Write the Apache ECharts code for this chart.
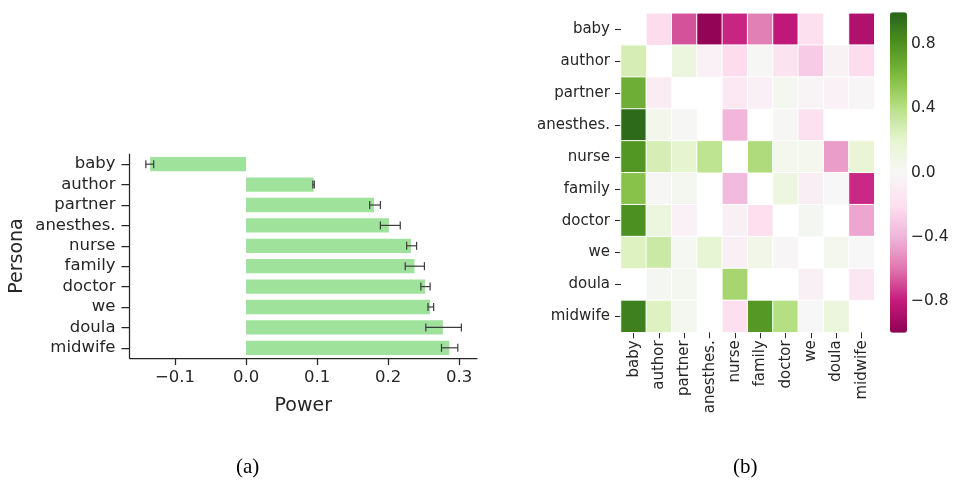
<!DOCTYPE html>
<html>
<head>
<meta charset="utf-8">
<script src="https://cdn.jsdelivr.net/npm/echarts@6/dist/echarts.min.js"></script>
<style>html,body{margin:0;padding:0;background:#fff;}#c{width:953px;height:481px;}</style>
</head>
<body>
<div id="c"></div>
<script>
const personas = ['baby','author','partner','anesthes.','nurse','family','doctor','we','doula','midwife'];
const power = [-0.135, 0.095, 0.180, 0.201, 0.232, 0.237, 0.252, 0.259, 0.277, 0.286];
const errLow = [-0.141, 0.094, 0.174, 0.189, 0.226, 0.224, 0.246, 0.256, 0.253, 0.275];
const errHigh = [-0.130, 0.096, 0.189, 0.217, 0.240, 0.251, 0.259, 0.264, 0.303, 0.298];
const powerTicks = [-0.1, 0.0, 0.1, 0.2, 0.3];
const colorbarTicks = [-0.8, -0.4, 0.0, 0.4, 0.8];
// rows (y, top to bottom) x columns (x, left to right); null = blank cell
const matrix = [
  [null, -0.22, -0.68, -0.98, -0.78, -0.57, -0.82, -0.20, null, -0.88],
  [0.27, null, 0.13, -0.05, -0.22, 0.01, -0.17, -0.30, -0.04, -0.22],
  [0.67, -0.10, null, null, -0.13, -0.06, 0.04, -0.03, -0.05, -0.02],
  [0.97, 0.06, 0.01, null, -0.40, null, 0.01, -0.18, null, null],
  [0.78, 0.27, 0.20, 0.37, null, 0.43, 0.05, 0.05, -0.48, 0.17],
  [0.57, 0.01, 0.04, null, -0.38, null, 0.12, -0.08, 0.00, -0.77],
  [0.81, 0.13, -0.05, null, -0.06, -0.20, null, 0.03, null, -0.45],
  [0.24, 0.32, 0.02, 0.18, -0.06, 0.07, -0.02, null, 0.05, 0.00],
  [null, 0.03, 0.04, null, 0.46, null, null, -0.06, null, -0.14],
  [0.88, 0.24, 0.04, null, -0.20, 0.77, 0.41, 0.00, 0.14, null]
];
const piyg = ['#8e0152','#c51b7d','#de77ae','#f1b6da','#fde0ef','#f7f7f7','#e6f5d0','#b8e186','#7fbc41','#4d9221','#276419'];

const heatData = [];
matrix.forEach((row, yi) => row.forEach((v, xi) => { if (v !== null) heatData.push([xi, yi, v]); }));
const errData = personas.map((p, i) => [errLow[i], errHigh[i], i]);

const fmt = v => (v < 0 ? '\u2212' + Math.abs(v).toFixed(1) : v.toFixed(1));
const txt = '#262626';
const font = 'DejaVu Sans';

const chart = echarts.init(document.getElementById('c'), null, {renderer: 'canvas'});
chart.setOption({
  animation: false,
  textStyle: {fontFamily: font, color: txt},
  title: [
    {text: '(a)', left: 231, top: 452, textStyle: {fontFamily: 'Liberation Serif', fontSize: 21, fontWeight: 'normal', color: '#000'}},
    {text: '(b)', left: 728, top: 452, textStyle: {fontFamily: 'Liberation Serif', fontSize: 21, fontWeight: 'normal', color: '#000'}}
  ],
  grid: [
    {left: 129.5, top: 154, width: 347.5, height: 204, containLabel: false},
    {left: 621, top: 13.3, width: 253.3, height: 319, containLabel: false},
    {left: 890, top: 12.3, width: 17, height: 320.4, containLabel: false}
  ],
  xAxis: [
    {type: 'value', gridIndex: 0, min: -0.164, max: 0.325,
     name: 'Power', nameLocation: 'middle', nameGap: 39,
     nameTextStyle: {fontSize: 19, color: txt, fontFamily: font},
     axisLine: {show: true, onZero: false, lineStyle: {color: txt, width: 1.25}},
     axisTick: {show: true, length: 7, customValues: powerTicks, lineStyle: {color: txt, width: 1.25}},
     axisLabel: {customValues: powerTicks, formatter: fmt, fontSize: 16.5, color: txt, margin: 11, fontFamily: font},
     splitLine: {show: false}},
    {type: 'category', gridIndex: 1, data: personas, position: 'bottom',
     axisLine: {show: false},
     axisTick: {show: true, alignWithLabel: true, length: 6, lineStyle: {color: txt, width: 1}},
     axisLabel: {rotate: 90, fontSize: 15, color: txt, margin: 8, fontFamily: font, interval: 0},
     splitLine: {show: false}},
    {type: 'value', gridIndex: 2, show: false, min: 0, max: 1}
  ],
  yAxis: [
    {type: 'category', gridIndex: 0, data: personas, inverse: true,
     name: 'Persona', nameLocation: 'middle', nameGap: 103, nameRotate: 90,
     nameTextStyle: {fontSize: 19, color: txt, fontFamily: font},
     axisLine: {show: true, onZero: false, lineStyle: {color: txt, width: 1.25}},
     axisTick: {show: true, alignWithLabel: true, length: 8, lineStyle: {color: txt, width: 1.25}},
     axisLabel: {fontSize: 16.5, color: txt, margin: 14, fontFamily: font, interval: 0}},
    {type: 'category', gridIndex: 1, data: personas, inverse: true,
     axisLine: {show: false},
     axisTick: {show: true, alignWithLabel: true, length: 6, lineStyle: {color: txt, width: 1}},
     axisLabel: {fontSize: 15, color: txt, margin: 11, fontFamily: font, interval: 0}},
    {type: 'value', gridIndex: 2, min: -1, max: 1, position: 'right',
     axisLine: {show: false},
     axisTick: {show: true, length: 5, customValues: colorbarTicks, lineStyle: {color: txt, width: 1}},
     axisLabel: {customValues: colorbarTicks, formatter: fmt, fontSize: 15.5, color: txt, margin: 4, fontFamily: font},
     splitLine: {show: false}}
  ],
  visualMap: {
    type: 'continuous', min: -1, max: 1, seriesIndex: 2, calculable: false,
    orient: 'vertical', left: 890, top: 12.3, padding: 0,
    itemWidth: 17, itemHeight: 320.4, text: null, showLabel: false, hoverLink: false,
    inRange: {color: piyg}
  },
  series: [
    {type: 'bar', xAxisIndex: 0, yAxisIndex: 0, data: power, barWidth: '70%',
     itemStyle: {color: '#9fe29c'}},
    {type: 'custom', xAxisIndex: 0, yAxisIndex: 0, data: errData, z: 5,
     renderItem: function (params, api) {
       const lo = api.coord([api.value(0), api.value(2)]);
       const hi = api.coord([api.value(1), api.value(2)]);
       const h = 4;
       const st = {stroke: '#3c3c3c', lineWidth: 1.2};
       return {type: 'group', children: [
         {type: 'line', shape: {x1: lo[0], y1: lo[1], x2: hi[0], y2: hi[1]}, style: st},
         {type: 'line', shape: {x1: lo[0], y1: lo[1] - h, x2: lo[0], y2: lo[1] + h}, style: st},
         {type: 'line', shape: {x1: hi[0], y1: hi[1] - h, x2: hi[0], y2: hi[1] + h}, style: st}
       ]};
     }},
    {type: 'heatmap', xAxisIndex: 1, yAxisIndex: 1, data: heatData,
     itemStyle: {borderColor: '#ffffff', borderWidth: 1}}
  ]
});
</script>
</body>
</html>
